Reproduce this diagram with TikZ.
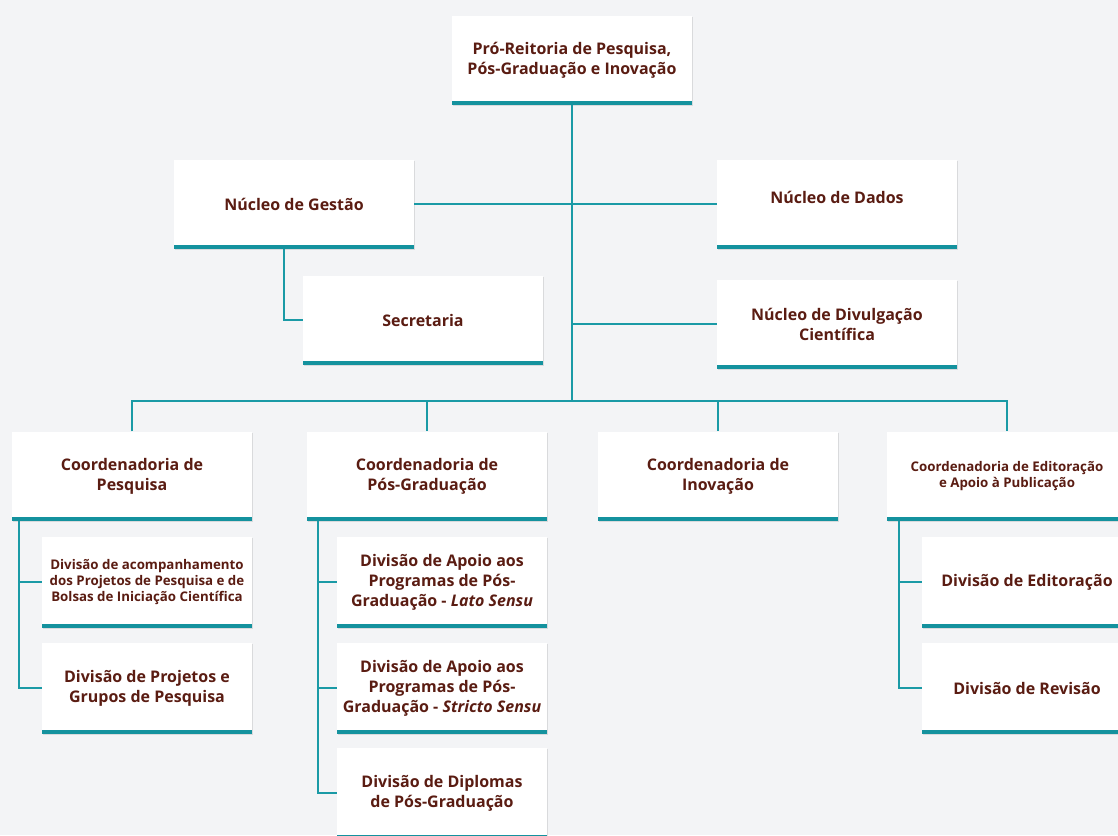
\documentclass[tikz,border=0pt]{standalone}
\usepackage{fontspec}
\setmainfont{Open Sans}
\usetikzlibrary{shadows}

\definecolor{pagebg}{HTML}{F3F4F6}
\definecolor{orgtext}{HTML}{5A1C12}
\definecolor{orgteal}{HTML}{1A9AA6}
\definecolor{orgbar}{HTML}{14929E}

\tikzset{
  unitbox/.style={fill=white, inner sep=2pt, align=center,
    minimum width=240pt, minimum height=89pt,
    text=orgtext, font=\bfseries\fontsize{16}{20}\selectfont,
    drop shadow={shadow xshift=0.8pt, shadow yshift=-1pt, opacity=.22},
    path picture={\fill[orgbar] (path picture bounding box.south west)
      rectangle ([yshift=4pt]path picture bounding box.south east);}},
  subbox/.style={unitbox, minimum width=210pt, minimum height=91pt},
  smalltext/.style={font=\bfseries\fontsize{13.3}{16}\selectfont},
  link/.style={draw=orgteal, line width=1.8pt}
}

\begin{document}
\begin{tikzpicture}[x=1pt, y=-1pt]
      % Page and clipping
      \fill[pagebg] (0,0) rectangle (1118,835);
      \clip (0,0) rectangle (1118,835);

      % Top of the chart
      \node[unitbox] (proreitoria) at (572,60)
        {Pró-Reitoria de Pesquisa,\\Pós-Graduação e Inovação};

      % Nucleos
      \node[unitbox] (gestao) at (294,204) {Núcleo de Gestão};
      \node[unitbox] (secretaria) at (423,320) {Secretaria};
      \node[unitbox] (dados) at (837,204) {Núcleo de Dados\\[-6pt]};
      \node[unitbox] (divulgacao) at (837,324)
        {Núcleo de Divulgação\\Científica};

      % Coordenadorias
      \node[unitbox] (coordpesq) at (132,476) {Coordenadoria de\\Pesquisa};
      \node[unitbox] (coordpos) at (427,476) {Coordenadoria de\\Pós-Graduação};
      \node[unitbox] (coordinov) at (718,476) {Coordenadoria de\\Inovação};
      \node[unitbox, smalltext] (coordedit) at (1007,476)
        {Coordenadoria de Editoração\\e Apoio à Publicação};

      % Divisoes
      \node[subbox, smalltext] (divacomp) at (147,582)
        {Divisão de acompanhamento\\dos Projetos de Pesquisa e de\\Bolsas de Iniciação Científica};
      \node[subbox] (divproj) at (147,688) {Divisão de Projetos e\\Grupos de Pesquisa};
      \node[subbox] (divlato) at (442,582)
        {Divisão de Apoio aos\\Programas de Pós-\\Graduação - \textit{Lato Sensu}};
      \node[subbox] (divstricto) at (442,688)
        {Divisão de Apoio aos\\Programas de Pós-\\Graduação - \textit{Stricto Sensu}};
      \node[subbox] (diplomas) at (442,793) {Divisão de Diplomas\\de Pós-Graduação};
      \node[subbox] (diveditor) at (1027,582) {Divisão de Editoração};
      \node[subbox] (divrevisao) at (1027,688) {Divisão de Revisão};

      % Connectors
      \coordinate (bus) at (572,401);
      \draw[link] (proreitoria.south) -- (bus);
      \draw[link] (gestao.east) -- (dados.west);
      \draw[link] (divulgacao.west) -- (divulgacao.west -| bus);
      \draw[link] ([xshift=-10pt]gestao.south) |- (secretaria.west);
      \draw[link] (coordpesq.north) |- (bus) -| (coordedit.north);
      \draw[link] (bus -| coordpos.north) -- (coordpos.north);
      \draw[link] (bus -| coordinov.north) -- (coordinov.north);
      \foreach \d in {divacomp,divproj}
        \draw[link] ([xshift=7pt]coordpesq.south west) |- (\d.west);
      \foreach \d in {divlato,divstricto,diplomas}
        \draw[link] ([xshift=11pt]coordpos.south west) |- (\d.west);
      \foreach \d in {diveditor,divrevisao}
        \draw[link] ([xshift=12pt]coordedit.south west) |- (\d.west);
\end{tikzpicture}
\end{document}
